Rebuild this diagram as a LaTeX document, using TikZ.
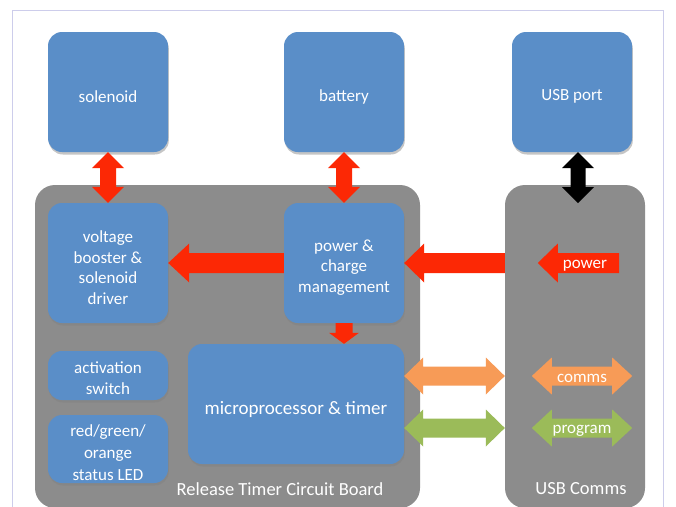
\documentclass[tikz,border=0pt]{standalone}
\usepackage{fontspec}
\setmainfont{Carlito}
\usetikzlibrary{calc,shadows}

\definecolor{boxblue}{RGB}{90,142,200}
\definecolor{boardgray}{RGB}{140,140,140}
\definecolor{flowred}{RGB}{252,40,5}
\definecolor{commorange}{RGB}{247,155,87}
\definecolor{proggreen}{RGB}{155,187,89}
\definecolor{framelav}{RGB}{205,205,235}

% single-headed block arrow: tail, tip, shaft half width, head half width, head length, colour
\newcommand\blockarrow[6]{%
  \coordinate (ba-h) at ($(#2)!#5!(#1)$);
  \fill[#6] ($(#1)!#3!90:(#2)$) -- ($(ba-h)!#3!-90:(#1)$) -- ($(ba-h)!#4!-90:(#1)$)
    -- (#2) -- ($(ba-h)!#4!90:(#1)$) -- ($(ba-h)!#3!90:(#1)$) -- ($(#1)!#3!-90:(#2)$) -- cycle;}

% double-headed block arrow: end A, end B, shaft half width, head half width, head length, colour
\newcommand\dblarrow[6]{%
  \coordinate (da-a) at ($(#1)!#5!(#2)$);
  \coordinate (da-b) at ($(#2)!#5!(#1)$);
  \fill[#6] (#1) -- ($(da-a)!#4!90:(#2)$) -- ($(da-a)!#3!90:(#2)$)
    -- ($(da-b)!#3!-90:(#1)$) -- ($(da-b)!#4!-90:(#1)$) -- (#2)
    -- ($(da-b)!#4!90:(#1)$) -- ($(da-b)!#3!90:(#1)$)
    -- ($(da-a)!#3!-90:(#2)$) -- ($(da-a)!#4!-90:(#2)$) -- cycle;}

\begin{document}
\begin{tikzpicture}[x=1pt,y=-1pt,
  block/.style={rectangle, rounded corners=14pt, fill=boxblue, inner sep=0pt,
    drop shadow={shadow xshift=0.8pt, shadow yshift=-2.5pt, opacity=0.45}},
  blocktext/.style={text=white, align=center, inner sep=0pt, yshift=-4.5pt,
    font=\fontsize{17}{20.5}\selectfont},
  btext/.style={label={[blocktext]center:{#1}}},
  board/.style={rectangle, rounded corners=20pt, fill=boardgray, inner sep=0pt},
  boardlabel/.style={text=white, font=\fontsize{18.5}{21}\selectfont, inner sep=0pt},
  arrowlabel/.style={text=white, font=\fontsize{17}{19}\selectfont, inner sep=0pt}]

\clip (0,0) rectangle (676,506);
\fill[white] (0,0) rectangle (676,506);

% outer frame
\draw[framelav, line width=1pt] (12,520) |- (663,10) -- (663,520);

% circuit boards
\node[board, minimum width=385, minimum height=323] (rtb) at (227.5,346.5) {};
\node[board, minimum width=140, minimum height=323] (usbb) at (575,346.5) {};

% external parts
\node[block, minimum width=120, minimum height=120, btext={solenoid}] (sol) at (108,92) {};
\node[block, minimum width=120, minimum height=120, btext={battery}] (bat) at (344,92) {};
\node[block, minimum width=120, minimum height=120, btext={USB port}] (usb) at (572,92) {};

% on-board blocks
\node[block, minimum width=120, minimum height=120,
  btext={voltage\\booster \&\\solenoid\\driver}] (vb) at (108,263) {};
\node[block, minimum width=120, minimum height=120,
  btext={power \&\\charge\\management}] (pcm) at (344,263) {};
\node[block, minimum width=120, minimum height=49,
  label={[blocktext, yshift=2pt]center:{activation\\switch}}] (act) at (108,375.5) {};
\node[block, minimum width=120, minimum height=68,
  label={[blocktext, yshift=1pt, font=\fontsize{17}{22}\selectfont]center:{red/green/\\orange\\status LED}}] (led) at (108,449) {};
\node[block, minimum width=216, minimum height=120,
  label={[blocktext, yshift=-0.5pt, font=\fontsize{19}{22}\selectfont]center:{microprocessor \& timer}}] (mcu) at (296,404) {};

% helper points
\coordinate (u1) at ($(usb.south)+(6,0)$);
\coordinate (u2) at ($(u1)+(0,51)$);
\coordinate (p1) at (usbb.west |- pcm.east);
\coordinate (pwtip) at ($(p1)+(33,0)$);
\coordinate (pwtail) at ($(usbb.east |- pcm.east)+(-26,0)$);
\coordinate (o1) at ($(mcu.east)+(0,-28)$);
\coordinate (o2) at (usbb.west |- o1);
\coordinate (c1) at ($(o2)+(27,0)$);
\coordinate (c2) at ($(usbb.east |- o1)+(-13,0)$);
\coordinate (g1) at ($(mcu.east)+(0,24)$);
\coordinate (g2) at (usbb.west |- g1);
\coordinate (r1) at ($(g2)+(27,0)$);
\coordinate (r2) at ($(usbb.east |- g1)+(-13,0)$);
\coordinate (m1) at (pcm.south |- mcu.north);

% connectors
\dblarrow{sol.south}{vb.north}{8pt}{16pt}{16pt}{flowred}
\dblarrow{bat.south}{pcm.north}{8pt}{16pt}{16pt}{flowred}
\dblarrow{u1}{u2}{7.5pt}{16pt}{16pt}{black}
\blockarrow{pcm.west}{vb.east}{10pt}{19.5pt}{21pt}{flowred}
\blockarrow{p1}{pcm.east}{10pt}{19.5pt}{20pt}{flowred}
\blockarrow{pwtail}{pwtip}{10pt}{19.5pt}{20pt}{flowred}
\blockarrow{pcm.south}{m1}{8.5pt}{15pt}{11pt}{flowred}
\dblarrow{o1}{o2}{9.5pt}{18.5pt}{19pt}{commorange}
\dblarrow{c1}{c2}{9.5pt}{18.5pt}{20pt}{commorange}
\dblarrow{g1}{g2}{9.5pt}{18.5pt}{19pt}{proggreen}
\dblarrow{r1}{r2}{9.5pt}{18.5pt}{20pt}{proggreen}

% labels
\node[arrowlabel] (pwlabel) at (585,266) {power};
\node[arrowlabel] (cmlabel) at ($(c1)!0.5!(c2)+(0,2)$) {comms};
\node[arrowlabel] (pglabel) at ($(r1)!0.5!(r2)+(0,3)$) {program};
\node[boardlabel] (rtblabel) at (280,489) {Release Timer Circuit Board};
\node[boardlabel] (usblabel) at (581,489) {USB Comms};

\end{tikzpicture}
\end{document}
